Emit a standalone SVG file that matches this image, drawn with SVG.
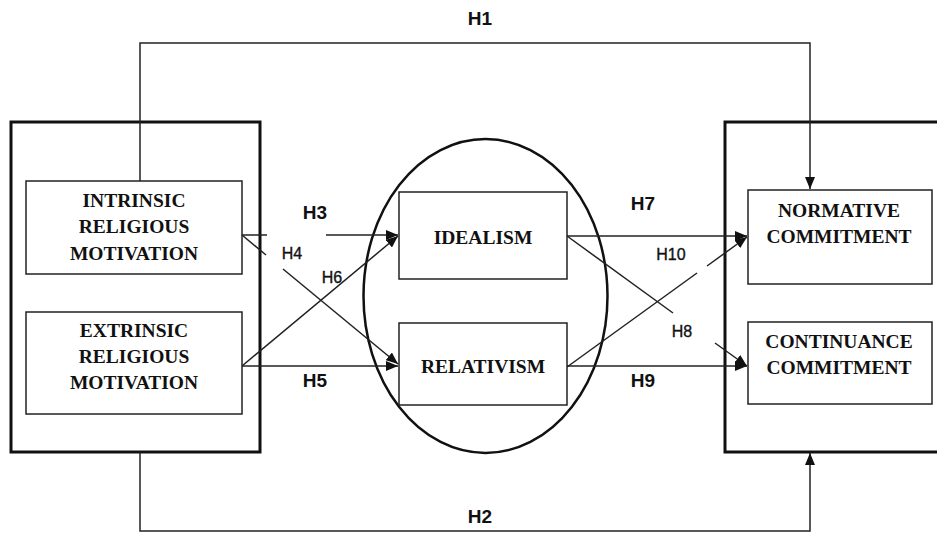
<svg xmlns="http://www.w3.org/2000/svg" width="937" height="533" viewBox="0 0 937 533">
<defs>
<style>
.outer{fill:none;stroke:#111;stroke-width:3}
.box{fill:#fff;stroke:#222;stroke-width:1.5}
.ell{fill:none;stroke:#111;stroke-width:2.5}
.lbl{font-family:"Liberation Serif","Times New Roman",serif;font-weight:bold;font-size:19.5px;fill:#111;text-anchor:middle}
.hb{font-family:"Liberation Sans",Arial,sans-serif;font-weight:bold;font-size:19px;fill:#111;text-anchor:middle}
.hs{font-family:"Liberation Sans",Arial,sans-serif;font-size:16px;fill:#111;stroke:#111;stroke-width:0.35;text-anchor:middle}
.ln{fill:none;stroke:#222;stroke-width:1.5}
</style>
<marker id="ah" markerWidth="12" markerHeight="10" refX="12" refY="5" orient="auto" markerUnits="userSpaceOnUse"><path d="M0,0 L12,5 L0,10 z" fill="#111"/></marker>
</defs>
<rect width="937" height="533" fill="#fff"/>

<g id="group-religious-motivation"><rect class="outer" x="11" y="122" width="249" height="330"/></g>
<g id="group-commitment"><rect class="outer" x="725" y="122" width="230" height="330"/></g>
<g id="group-ethical-ideology"><ellipse class="ell" cx="485.5" cy="296" rx="122" ry="157"/></g>

<g id="connectors">
<path class="ln" d="M140,181 V43 H810 V189" marker-end="url(#ah)"/>
<path class="ln" d="M140,452 V531 H810 V453" marker-end="url(#ah)"/>
<line class="ln" x1="242" y1="235" x2="267" y2="235"/>
<line class="ln" x1="326" y1="235" x2="398" y2="235" marker-end="url(#ah)"/>
<line class="ln" x1="242" y1="235" x2="266" y2="255"/>
<line class="ln" x1="283" y1="269" x2="398" y2="364" marker-end="url(#ah)"/>
<line class="ln" x1="242" y1="366" x2="398" y2="366" marker-end="url(#ah)"/>
<line class="ln" x1="242" y1="366" x2="398" y2="236" marker-end="url(#ah)"/>
<line class="ln" x1="567" y1="236" x2="747" y2="236" marker-end="url(#ah)"/>
<line class="ln" x1="567" y1="366" x2="747" y2="366" marker-end="url(#ah)"/>
<line class="ln" x1="567" y1="236" x2="673" y2="313"/>
<line class="ln" x1="715" y1="343" x2="747" y2="366" marker-end="url(#ah)"/>
<line class="ln" x1="567" y1="367" x2="697" y2="273"/>
<line class="ln" x1="707" y1="266" x2="747" y2="237" marker-end="url(#ah)"/>
</g>

<g id="intrinsic">
<rect class="box" x="26" y="181" width="216" height="93"/>
<text class="lbl" x="134" y="207">INTRINSIC</text>
<text class="lbl" x="134" y="233">RELIGIOUS</text>
<text class="lbl" x="134" y="260">MOTIVATION</text>
</g>
<g id="extrinsic">
<rect class="box" x="26" y="312" width="216" height="102"/>
<text class="lbl" x="134" y="337">EXTRINSIC</text>
<text class="lbl" x="134" y="363">RELIGIOUS</text>
<text class="lbl" x="134" y="389">MOTIVATION</text>
</g>
<g id="idealism">
<rect class="box" x="399" y="192" width="168" height="87"/>
<text class="lbl" x="483" y="244">IDEALISM</text>
</g>
<g id="relativism">
<rect class="box" x="399" y="323" width="168" height="82"/>
<text class="lbl" x="483" y="373">RELATIVISM</text>
</g>
<g id="normative">
<rect class="box" x="748" y="190" width="184" height="94"/>
<text class="lbl" x="839" y="217">NORMATIVE</text>
<text class="lbl" x="839" y="243">COMMITMENT</text>
</g>
<g id="continuance">
<rect class="box" x="748" y="322" width="184" height="82"/>
<text class="lbl" x="839" y="348">CONTINUANCE</text>
<text class="lbl" x="839" y="374">COMMITMENT</text>
</g>

<g id="labels">
<text class="hb" x="480" y="25">H1</text>
<text class="hb" x="480" y="523">H2</text>
<text class="hb" x="315" y="219">H3</text>
<text class="hb" x="315" y="387">H5</text>
<text class="hb" x="643" y="210">H7</text>
<text class="hb" x="643" y="387">H9</text>
<text class="hs" x="292" y="259">H4</text>
<text class="hs" x="332" y="283">H6</text>
<text class="hs" x="671" y="260">H10</text>
<text class="hs" x="682" y="337">H8</text>
</g>
</svg>
